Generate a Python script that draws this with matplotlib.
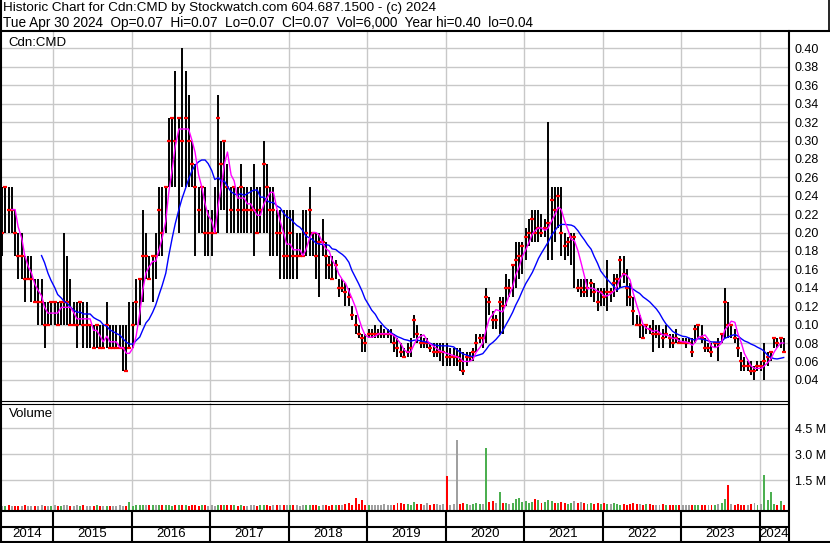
import matplotlib
matplotlib.use('Agg')
import matplotlib.pyplot as plt
import numpy as np
import pandas as pd

plt.rcParams['font.family'] = ['Liberation Sans', 'DejaVu Sans']

# semi-monthly bars, May 2014 - Apr 2024 (bar drawn mid-period)
bar_dates = pd.date_range('2014-05-01', '2024-04-15', freq='SMS') + pd.Timedelta(days=7)

highs = [
    .25, .25, .25, .25, .225, .20, .20, .175, .175, .175, .15, .15, .15, .125, .125, .125,  # 2014
    .125, .125, .125, .20, .175, .15, .125, .125, .125, .125, .125, .10, .10, .10, .10, .10, .125, .10, .10, .10, .10, .10, .10, .125,
    .125, .15, .15, .225, .20, .175, .175, .20, .25, .25, .25, .325, .325, .375, .325, .40, .375, .35, .30, .275, .25, .25, .25, .225,
    .225, .25, .35, .30, .30, .275, .25, .25, .25, .275, .25, .25, .25, .275, .25, .25, .30, .275, .25, .25, .225, .225, .225, .225,
    .225, .225, .20, .20, .225, .225, .25, .20, .20, .20, .215, .19, .175, .175, .17, .15, .15, .145, .14, .12, .11, .10, .09, .09,
    .095, .095, .10, .095, .10, .095, .095, .095, .09, .085, .08, .075, .08, .085, .11, .10, .09, .085, .085, .08, .08, .08, .08, .08,
    .08, .075, .075, .075, .075, .07, .07, .07, .075, .09, .09, .09, .14, .13, .115, .11, .13, .13, .155, .15, .165, .19, .19, .19,
    .205, .215, .225, .225, .225, .22, .215, .32, .25, .25, .25, .25, .20, .195, .20, .20, .15, .15, .15, .15, .15, .145, .14, .14,
    .14, .17, .14, .155, .155, .175, .175, .16, .145, .13, .11, .11, .10, .10, .10, .105, .10, .10, .095, .10, .09, .09, .095, .085,
    .085, .085, .085, .085, .10, .10, .10, .085, .08, .08, .08, .085, .09, .14, .125, .10, .095, .085, .07, .065, .06, .06, .055, .06,
    .06, .08, .07, .07, .085, .085, .085, .085,  # 2024
]
lows = [
    .175, .20, .20, .20, .175, .15, .15, .125, .15, .125, .125, .10, .10, .075, .10, .10,
    .10, .10, .10, .10, .10, .10, .10, .075, .10, .075, .075, .075, .075, .075, .075, .075, .075, .075, .075, .075, .075, .05, .05, .075,
    .075, .10, .10, .125, .15, .15, .125, .15, .175, .175, .20, .25, .25, .25, .20, .25, .25, .25, .25, .175, .20, .20, .175, .175,
    .175, .20, .20, .225, .225, .20, .20, .20, .20, .20, .20, .20, .20, .175, .20, .20, .20, .20, .175, .175, .175, .15, .15, .15,
    .15, .15, .15, .175, .175, .175, .175, .175, .15, .13, .175, .15, .15, .15, .15, .13, .135, .12, .12, .105, .09, .085, .07, .07,
    .085, .085, .085, .085, .085, .085, .085, .08, .07, .065, .065, .065, .065, .065, .085, .08, .075, .075, .075, .07, .065, .065, .06, .055,
    .055, .055, .055, .055, .05, .045, .055, .06, .06, .07, .08, .075, .08, .11, .095, .095, .09, .09, .12, .13, .13, .14, .15, .155,
    .17, .185, .19, .19, .19, .195, .195, .17, .17, .19, .205, .175, .17, .175, .165, .14, .135, .13, .13, .13, .13, .125, .115, .12,
    .12, .115, .125, .13, .135, .14, .145, .12, .12, .10, .10, .085, .085, .09, .09, .07, .085, .075, .075, .085, .075, .075, .08, .08,
    .08, .075, .08, .065, .08, .085, .08, .07, .07, .065, .075, .06, .08, .085, .085, .085, .08, .065, .05, .05, .05, .045, .04, .05,
    .05, .04, .055, .06, .075, .075, .075, .07,
]
closes = [
    .20, .25, .225, .225, .20, .175, .175, .15, .15, .15, .125, .125, .125, .10, .10, .125,
    .125, .10, .125, .125, .125, .10, .10, .10, .125, .10, .10, .10, .075, .10, .075, .075, .10, .075, .075, .075, .075, .075, .05, .075,
    .10, .125, .15, .175, .175, .15, .175, .175, .225, .20, .25, .30, .325, .30, .325, .30, .325, .30, .275, .25, .225, .25, .20, .20,
    .20, .20, .325, .275, .30, .25, .225, .25, .225, .25, .225, .225, .225, .225, .20, .225, .275, .25, .225, .225, .20, .20, .175, .175,
    .20, .175, .175, .175, .175, .20, .225, .20, .175, .19, .19, .175, .165, .15, .165, .14, .14, .135, .13, .11, .10, .09, .085, .08,
    .09, .09, .09, .09, .09, .09, .09, .09, .08, .075, .07, .065, .07, .075, .105, .09, .08, .08, .08, .075, .07, .07, .07, .07,
    .065, .065, .065, .065, .06, .05, .065, .065, .07, .08, .085, .085, .13, .125, .105, .105, .125, .12, .14, .14, .165, .17, .175, .185,
    .195, .20, .215, .20, .205, .20, .205, .21, .235, .225, .24, .20, .185, .19, .195, .195, .14, .14, .135, .14, .145, .135, .125, .135,
    .13, .135, .135, .145, .15, .17, .155, .14, .13, .115, .10, .10, .085, .10, .095, .09, .09, .09, .085, .09, .085, .08, .085, .08,
    .08, .08, .08, .07, .095, .10, .085, .075, .075, .07, .08, .08, .09, .125, .10, .10, .085, .075, .06, .055, .055, .05, .05, .055,
    .055, .06, .065, .07, .085, .08, .085, .07,
]
# volume, millions of shares
volumes = [
    .04, .03, .05, .02, .03, .04, .02, .05, .03, .02, .04, .03, .05, .03, .02, .04,
    .05, .03, .04, .10, .06, .04, .03, .05, .04, .06, .03, .04, .02, .05, .03, .04, .03, .02, .04, .03, .05, .04, .03, .25,
    .04, .06, .05, .08, .07, .05, .06, .09, .05, .07, .06, .05, .04, .06, .05, .07, .05, .04, .06, .05, .04, .05, .06, .04,
    .05, .04, .06, .07, .05, .09, .06, .05, .04, .05, .03, .04, .06, .05, .04, .05, .08, .05, .04, .06, .05, .07, .06, .05,
    .08, .06, .05, .04, .06, .05, .08, .06, .05, .04, .06, .05, .04, .07, .05, .06, .05, .12, .18, .10, .48, .12, .37, .10,
    .08, .06, .10, .07, .09, .12, .08, .07, .10, .18, .22, .12, .15, .10, .25, .14, .12, .08, .20, .10, .15, .12, .10, .14,
    1.75, .10, .14, 3.83, .12, .18, .15, .10, .12, .20, .14, .12, 3.37, .25, .30, .18, .85, .22, .20, .15, .18, .42, .48, .25,
    .30, .22, .25, .42, .35, .18, .28, .35, .30, .20, .22, .25, .18, .15, .22, .30, .18, .25, .20, .15, .18, .12, .20, .15,
    .18, .12, .15, .20, .12, .10, .14, .10, .12, .20, .15, .12, .10, .14, .12, .08, .10, .06, .12, .08, .06, .10, .05, .08,
    .06, .08, .10, .06, .05, .08, .06, .05, .10, .06, .08, .12, .18, .44, 1.21, .15, .10, .12, .08, .10, .06, .12, .18, .10,
    .12, 1.79, .35, .80, .12, .10, .30, .08,
]

price_ticks = np.round(np.arange(0.04, 0.401, 0.02), 2)
vol_ticks = [1.5, 3.0, 4.5]
year_starts = [pd.Timestamp(f'{y}-01-01') for y in range(2015, 2025)]
x_start, x_end = pd.Timestamp('2014-05-08'), pd.Timestamp('2024-05-12')

GRID = '#c8c8c8'
W, H = 830, 543


def box(x0, y0, x1, y1):
    return [x0 / W, 1 - y1 / H, (x1 - x0) / W, (y1 - y0) / H]


fig = plt.figure(figsize=(W / 100, H / 100), dpi=100)
ax = fig.add_axes(box(2, 31, 788, 401))
axv = fig.add_axes(box(2, 403, 788, 510), sharex=ax)
axd = fig.add_axes(box(2, 511, 788, 541), sharex=ax)

closes_s = pd.Series(closes, index=bar_dates)
ma_fast = closes_s.rolling(4).mean()
ma_slow = closes_s.rolling(13).mean()

# price panel
ax.vlines(bar_dates, lows, highs, color='black', lw=1.4, zorder=2)
ax.plot(bar_dates, closes, ls='none', marker='_', ms=3.5, mew=1.6, color='red', zorder=3)
ax.plot(ma_slow.index, ma_slow.values, color='#0000ff', lw=1, zorder=4)
ax.plot(ma_fast.index, ma_fast.values, color='#ff00ff', lw=1, zorder=5)
ax.set_ylim(0.017, 0.419)
ax.set_xlim(x_start, x_end)
ax.set_yticks(price_ticks)
ax.set_yticklabels([f'{v:.2f}' for v in price_ticks])

# volume panel
chg = np.sign(np.diff(np.r_[closes[0], closes]))
vol_colors = np.where(chg > 0, '#4caf50', np.where(chg < 0, '#ff0000', '#a0a0a0'))
vbase = -0.21
axv.bar(bar_dates, np.array(volumes) - vbase, bottom=vbase, width=9, color=vol_colors, zorder=2)
axv.set_ylim(vbase, 5.96)
axv.set_yticks(vol_ticks)
axv.set_yticklabels([f'{v:.1f} M' for v in vol_ticks])

for a in (ax, axv):
    a.yaxis.tick_right()
    a.tick_params(axis='y', length=0, pad=5, labelsize=9)
    a.tick_params(axis='x', length=0, labelbottom=False)
    a.grid(axis='y', color=GRID, lw=1)
    a.set_axisbelow(True)
    for yd in year_starts:
        a.axvline(yd, color=GRID, lw=1, zorder=0)
    for s in a.spines.values():
        s.set_visible(False)

ax.text(0.008, 0.985, 'Cdn:CMD', transform=ax.transAxes, va='top', fontsize=9.5)
axv.text(0.009, 0.95, 'Volume', transform=axv.transAxes, va='top', fontsize=9.5)

# year band
axd.set_ylim(0, 1)
axd.axis('off')
bounds = [x_start] + year_starts + [x_end]
for yd in year_starts:
    axd.axvline(yd, color='black', lw=1.5)
for i in range(len(bounds) - 1):
    mid = bounds[i] + (bounds[i + 1] - bounds[i]) / 2
    axd.text(mid, 0.22, str(bounds[i].year if i else 2014), ha='center', va='center', fontsize=9.5)

# header and frame in pixel coordinates
over = fig.add_axes([0, 0, 1, 1])
over.set_xlim(0, W)
over.set_ylim(H, 0)
over.axis('off')
over.set_zorder(10)
over.text(3, 2, 'Historic Chart for Cdn:CMD by Stockwatch.com 604.687.1500 - (c) 2024',
          va='top', fontsize=9.7)
over.text(3, 16, 'Tue Apr 30 2024  Op=0.07  Hi=0.07  Lo=0.07  Cl=0.07  Vol=6,000  Year hi=0.40  lo=0.04',
          va='top', fontsize=9.8)
lw2 = 1.5
over.plot([0, W], [30.5, 30.5], color='black', lw=lw2)
over.plot([1, 1], [0, H], color='black', lw=lw2)
over.plot([828.5, 828.5], [0, 31], color='black', lw=1.2)
over.plot([0, W], [541.5, 541.5], color='black', lw=lw2)
over.plot([788.5, 788.5], [31, 542], color='black', lw=lw2)
over.plot([0, 788], [401, 401], color='black', lw=0.8)
over.plot([0, 788], [403.5, 403.5], color='black', lw=0.8)
over.plot([0, 788], [510.5, 510.5], color='black', lw=lw2)
over.plot([0, 788], [526.5, 526.5], color='black', lw=lw2)

fig.savefig('out.png', dpi=100)
